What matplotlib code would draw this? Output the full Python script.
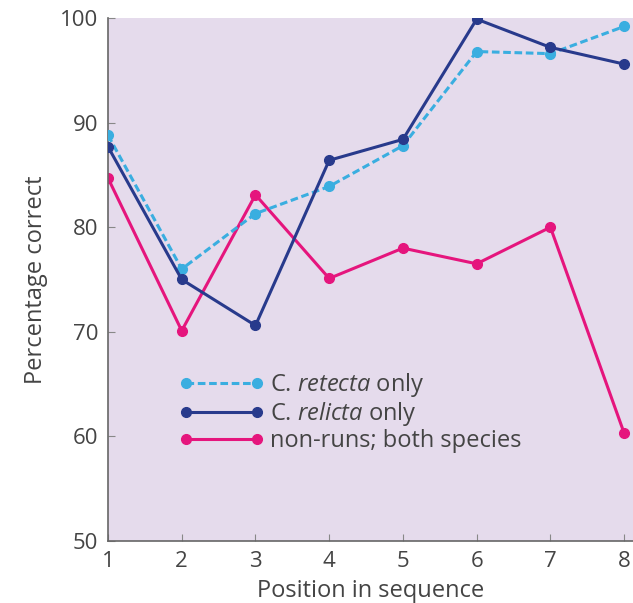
import matplotlib.pyplot as plt

plt.rcParams['font.family'] = ['Open Sans', 'DejaVu Sans']
plt.rcParams['mathtext.fontset'] = 'custom'
plt.rcParams['mathtext.it'] = 'Open Sans:italic'
plt.rcParams['mathtext.rm'] = 'Open Sans'

positions = [1, 2, 3, 4, 5, 6, 7, 8]
retecta = [88.8, 76.0, 81.3, 83.9, 87.8, 96.8, 96.6, 99.2]
relicta = [87.7, 75.0, 70.6, 86.4, 88.4, 99.9, 97.2, 95.6]
non_runs = [84.7, 70.1, 83.1, 75.1, 78.0, 76.5, 80.0, 60.3]

fig = plt.figure(figsize=(6.33, 6.03), dpi=100)
ax = fig.add_axes([0.1706, 0.103, 0.8294, 0.867])
ax.set_facecolor('#e5dbec')

ax.plot(positions, retecta, '--', color='#3aaee0', lw=2.2, marker='o', ms=7,
        dashes=(2.5, 1.2), label=r'C. $\it{retecta}$ only', zorder=3)
ax.plot(positions, relicta, '-', color='#283a8c', lw=2.2, marker='o', ms=7,
        label=r'C. $\it{relicta}$ only', zorder=4)
ax.plot(positions, non_runs, '-', color='#e5157d', lw=2.2, marker='o', ms=7,
        label='non-runs; both species', zorder=2)

ax.set_xlim(1, 8.12)
ax.set_ylim(50, 100)
ax.set_xticks(positions)
ax.set_yticks([50, 60, 70, 80, 90, 100])
ax.tick_params(direction='in', length=5, color='#888888', labelsize=16, labelcolor='#444444')
ax.tick_params(axis='x', pad=7)
ax.tick_params(axis='y', pad=7)
for side in ['top', 'right']:
    ax.spines[side].set_visible(False)
for side in ['left', 'bottom']:
    ax.spines[side].set_color('#666666')
    ax.spines[side].set_linewidth(1.2)

ax.set_xlabel('Position in sequence', fontsize=17, color='#444444', labelpad=5)
ax.set_ylabel('Percentage correct', fontsize=17, color='#444444', labelpad=9)

ax.legend(loc='upper left', bbox_to_anchor=(0.135, 0.325), frameon=False, numpoints=2,
          fontsize=17, handlelength=3.6, handletextpad=0.25, labelspacing=0.04,
          borderpad=0, borderaxespad=0, labelcolor='#444444')

fig.savefig('out.png', dpi=100)
